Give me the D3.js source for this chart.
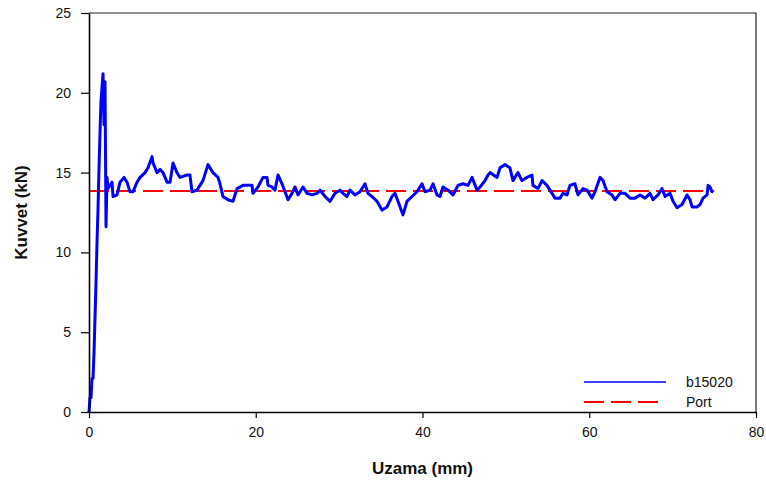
<!DOCTYPE html>
<html>
<head>
<meta charset="utf-8">
<script src="https://cdn.jsdelivr.net/npm/d3@7"></script>
<style>
  body { margin: 0; background: #fff; }
  svg { display: block; font-family: "Liberation Sans", Arial, sans-serif; }
</style>
</head>
<body>
<svg id="chart" width="766" height="482"></svg>
<script>
// elongation (mm)
let uzama = [
  0, 0.12, 0.24, 0.36, 0.48, 0.60, 0.72, 0.84, 0.96, 1.08, 1.20, 1.32, 1.44, 1.68, 1.80, 1.92, 2.04, 2.16,
  2.28, 2.76, 2.88, 3.36, 3.72, 4.20, 4.56, 4.92, 5.28, 5.76, 6.12, 6.72, 7.08, 7.56, 7.68, 8.16, 8.52,
  8.88, 9.36, 9.72, 10.08, 10.55, 10.91, 11.75, 12.11, 12.35, 12.95, 13.67, 14.27, 14.87, 15.47, 15.71,
  16.07, 16.67, 17.27, 17.75, 18.47, 19.55, 19.67, 20.27, 20.87, 21.35, 21.47, 21.95, 22.31, 22.67,
  23.15, 23.51, 23.87, 24.35, 24.71, 25.07, 25.67, 26.15, 26.75, 27.35, 27.71, 28.31, 28.91, 29.51,
  30.11, 30.46, 30.94, 31.30, 31.90, 32.50, 33.10, 33.46, 33.94, 34.54, 35.14, 35.74, 36.34, 36.70,
  37.06, 37.66, 38.14, 38.74, 39.34, 39.94, 40.30, 40.90, 41.26, 41.74, 42.10, 42.46, 43.06, 43.66,
  44.26, 44.86, 45.46, 45.94, 46.54, 46.90, 47.50, 47.86, 48.10, 48.94, 49.30, 49.90, 50.49, 50.85,
  51.45, 51.93, 52.53, 53.13, 53.25, 53.85, 54.33, 54.93, 55.29, 55.89, 56.49, 56.85, 57.33, 57.69,
  58.29, 58.65, 59.25, 59.73, 60.33, 60.69, 61.29, 61.65, 62.13, 62.73, 63.09, 63.69, 64.29, 64.89,
  65.49, 66.09, 66.69, 67.29, 67.65, 68.25, 68.73, 69.09, 69.69, 70.05, 70.53, 71.13, 71.73, 72.09,
  72.33, 72.93, 73.29, 73.65, 74.13, 74.25, 74.49, 74.73, 74.85
];
// force (kN), series b15020
let kuvvet = [
  0, 0.9, 0.9, 2.1, 2.1, 3.7, 5.9, 8.1, 10.6, 12.7, 15.3, 17.5, 19.5, 21.2, 18.0, 20.7, 11.6, 14.7,
  14.0, 14.4, 13.5, 13.6, 14.4, 14.7, 14.4, 13.8, 13.8, 14.4, 14.7, 15.0, 15.3, 16.0, 15.6, 15.0, 15.2,
  15.0, 14.4, 14.4, 15.6, 15.0, 14.7, 14.85, 14.85, 13.8, 13.9, 14.5, 15.5, 15.0, 14.7, 14.3,
  13.5, 13.3, 13.2, 14.0, 14.2, 14.2, 13.7, 14.1, 14.7, 14.7, 14.2, 14.1, 13.9, 14.85,
  14.3, 13.8, 13.3, 13.7, 14.1, 13.6, 14.1, 13.7, 13.6, 13.7, 13.9, 13.5, 13.2, 13.7,
  13.9, 13.7, 13.5, 13.9, 13.6, 13.8, 14.3, 13.7, 13.5, 13.2, 12.65, 12.85, 13.5, 13.7,
  13.2, 12.35, 13.2, 13.5, 13.8, 14.3, 13.8, 13.9, 14.3, 13.6, 13.5, 14.1, 13.9, 13.6,
  14.2, 14.3, 14.2, 14.7, 13.9, 14.1, 14.5, 14.85, 15.0, 14.7, 15.3, 15.5, 15.3, 14.5,
  15.0, 14.5, 14.7, 14.85, 14.2, 14.0, 14.5, 14.2, 13.9, 13.4, 13.4, 13.7, 13.6, 14.2,
  14.3, 13.6, 14.0, 13.9, 13.4, 13.8, 14.7, 14.5, 13.8, 13.6, 13.3, 13.7, 13.7, 13.4,
  13.4, 13.6, 13.4, 13.7, 13.3, 13.6, 14.0, 13.5, 13.7, 13.2, 12.8, 13.0, 13.6, 13.3,
  12.85, 12.85, 13.0, 13.4, 13.6, 14.2, 14.1, 13.8, 13.8
];
let portDeger = 13.85;
let portAralik = [0, 75];
let xTicks = [0, 20, 40, 60, 80];
let yTicks = [0, 5, 10, 15, 20, 25];
let seriAdlari = ["b15020", "Port"];

let svg = d3.select("#chart");
let opt = {
    left: 89, right: 756, top: 13, bottom: 412,
    blue: "#0000ff", red: "#ff0000"
};

let x = d3.scaleLinear().domain([0, 80]).range([opt.left, opt.right]);
let y = d3.scaleLinear().domain([0, 25]).range([opt.bottom, opt.top]);

// frame (top + right)
svg.append("path")
    .attr("d", `M${opt.left},${opt.top}H${opt.right}V${opt.bottom}`)
    .style("fill", "none")
    .style("stroke", "#222")
    .style("stroke-width", 1.2);

// Port line
let line = d3.line().x(d => x(d[0])).y(d => y(d[1]));
svg.append("path")
    .attr("d", line(portAralik.map(v => [v, portDeger])))
    .style("fill", "none")
    .style("stroke", opt.red)
    .style("stroke-width", 2)
    .style("stroke-dasharray", "20 7");

// measured curve
svg.append("path")
    .attr("d", line(uzama.map((u, i) => [u, kuvvet[i]])))
    .style("fill", "none")
    .style("stroke", opt.blue)
    .style("stroke-width", 3)
    .style("stroke-linejoin", "round");

// axes
let xAxis = svg.append("g")
    .attr("transform", `translate(0,${opt.bottom})`)
    .call(d3.axisBottom(x).tickValues(xTicks).tickSize(6).tickSizeOuter(0).tickPadding(9));
let yAxis = svg.append("g")
    .attr("transform", `translate(${opt.left},0)`)
    .call(d3.axisLeft(y).tickValues(yTicks).tickSize(8).tickSizeOuter(0).tickPadding(10));

[xAxis, yAxis].forEach(g => {
    g.select(".domain").style("stroke", "#000").style("stroke-width", 1.6);
    g.selectAll(".tick line").style("stroke", "#000").style("stroke-width", 1.2);
    g.selectAll(".tick text")
        .style("font-family", "Liberation Sans, Arial, sans-serif")
        .style("font-size", "14px")
        .style("fill", "#111");
});

// axis titles
svg.append("text")
    .attr("x", (opt.left + opt.right) / 2)
    .attr("y", 474)
    .style("text-anchor", "middle")
    .style("font-size", "17px")
    .style("font-weight", "bold")
    .style("fill", "#111")
    .text("Uzama (mm)");

svg.append("text")
    .attr("transform", `translate(27,${(opt.top + opt.bottom) / 2}) rotate(-90)`)
    .style("text-anchor", "middle")
    .style("font-size", "17px")
    .style("font-weight", "bold")
    .style("fill", "#111")
    .text("Kuvvet (kN)");

// legend
let legend = svg.append("g").attr("transform", "translate(584,382)");
legend.selectAll("line")
    .data(seriAdlari)
    .enter().append("line")
    .attr("x1", 0)
    .attr("x2", (d, i) => i === 0 ? 82 : 74)
    .attr("y1", (d, i) => i * 20)
    .attr("y2", (d, i) => i * 20)
    .style("stroke", (d, i) => i === 0 ? opt.blue : opt.red)
    .style("stroke-width", (d, i) => i === 0 ? 1.6 : 2)
    .style("stroke-dasharray", (d, i) => i === 0 ? null : "20 7");
legend.selectAll("text")
    .data(seriAdlari)
    .enter().append("text")
    .attr("x", 102)
    .attr("y", (d, i) => i * 20 + 5)
    .style("font-size", "14px")
    .style("fill", "#111")
    .text(d => d);
</script>
</body>
</html>
